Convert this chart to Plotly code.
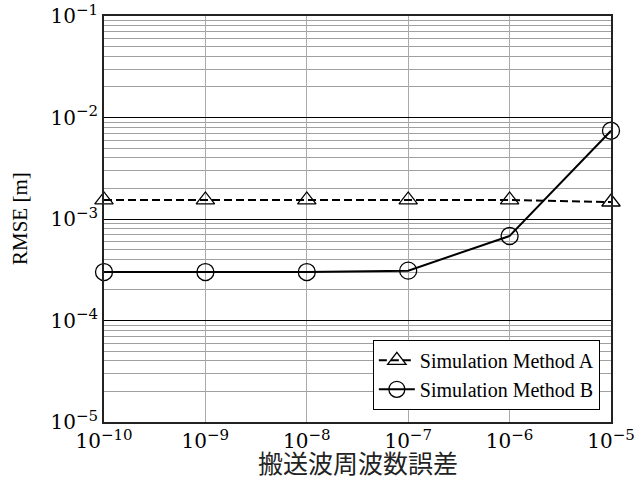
import plotly.graph_objects as go

freq_error = [1e-10, 1e-9, 1e-8, 1e-7, 1e-6, 1e-5]
rmse_a = [1.54e-3, 1.54e-3, 1.54e-3, 1.54e-3, 1.54e-3, 1.47e-3]
rmse_b = [3.0e-4, 3.0e-4, 3.0e-4, 3.1e-4, 6.8e-4, 7.4e-3]

x_ticks = [1e-10, 1e-9, 1e-8, 1e-7, 1e-6, 1e-5]
x_exps = ["−10", "−9", "−8", "−7", "−6", "−5"]
y_ticks = [1e-5, 1e-4, 1e-3, 1e-2, 1e-1]
y_exps = ["−5", "−4", "−3", "−2", "−1"]
y_minor = [m * 10 ** e for e in range(-5, -1) for m in range(2, 10)]


def pow_label(e):
    return '10<sup><span style="font-size:15px">' + e + '</span></sup>'


serif = "Liberation Serif"
tickserif = "DejaVu Serif"

fig = go.Figure()
fig.add_trace(go.Scatter(
    x=freq_error, y=rmse_a, mode="lines+markers", name="Simulation Method A",
    line=dict(color="black", width=2, dash="8px,4px"),
    marker=dict(symbol="triangle-up-open", size=16, color="black", line=dict(width=1.3)),
    cliponaxis=False,
))
fig.add_trace(go.Scatter(
    x=freq_error, y=rmse_b, mode="lines+markers", name="Simulation Method B",
    line=dict(color="black", width=2),
    marker=dict(symbol="circle-open", size=17, color="black", line=dict(width=1.3)),
    cliponaxis=False,
))

fig.update_layout(
    width=635, height=485,
    margin=dict(l=104, r=24, t=16, b=63),
    paper_bgcolor="white", plot_bgcolor="white",
    showlegend=True,
    legend=dict(
        x=0.978, y=0.03, xanchor="right", yanchor="bottom",
        bordercolor="black", borderwidth=1, bgcolor="white",
        font=dict(family=serif, size=20, color="black"),
        tracegroupgap=0, itemwidth=36,
    ),
    xaxis=dict(
        type="log", range=[-10, -5], automargin=False, ticklabeloverflow="allow",
        tickvals=x_ticks, ticktext=[pow_label(e) for e in x_exps],
        tickfont=dict(family=tickserif, size=20, color="black"),
        showgrid=True, gridcolor="#aaaaaa", gridwidth=1,
        showline=True, linecolor="#222222", linewidth=2, mirror=True,
        ticks="", zeroline=False,
    ),
    yaxis=dict(
        type="log", range=[-5, -1], automargin=False, ticklabeloverflow="allow",
        tickvals=y_ticks, ticktext=[pow_label(e) for e in y_exps],
        tickfont=dict(family=tickserif, size=20, color="black"),
        showgrid=True, gridcolor="black", gridwidth=1,
        minor=dict(tickvals=y_minor, showgrid=True, gridcolor="#a0a0a0", gridwidth=1, ticks=""),
        showline=True, linecolor="#222222", linewidth=2, mirror=True,
        ticks="", zeroline=False,
    ),
    annotations=[
        dict(text="搬送波周波数誤差", xref="paper", yref="paper", x=0.5, y=0,
             yshift=-40, xanchor="center", yanchor="middle", showarrow=False,
             font=dict(family="Noto Sans CJK JP", size=25, color="#222222")),
        dict(text="RMSE [m]", xref="paper", yref="paper", x=0, y=0.5,
             xshift=-84, xanchor="center", yanchor="middle", showarrow=False, textangle=-90,
             font=dict(family=serif, size=21, color="black")),
    ],
)

fig.write_html("out.html", config={"displayModeBar": False},
               post_script="document.body.style.margin='0';document.body.style.overflow='hidden';")
